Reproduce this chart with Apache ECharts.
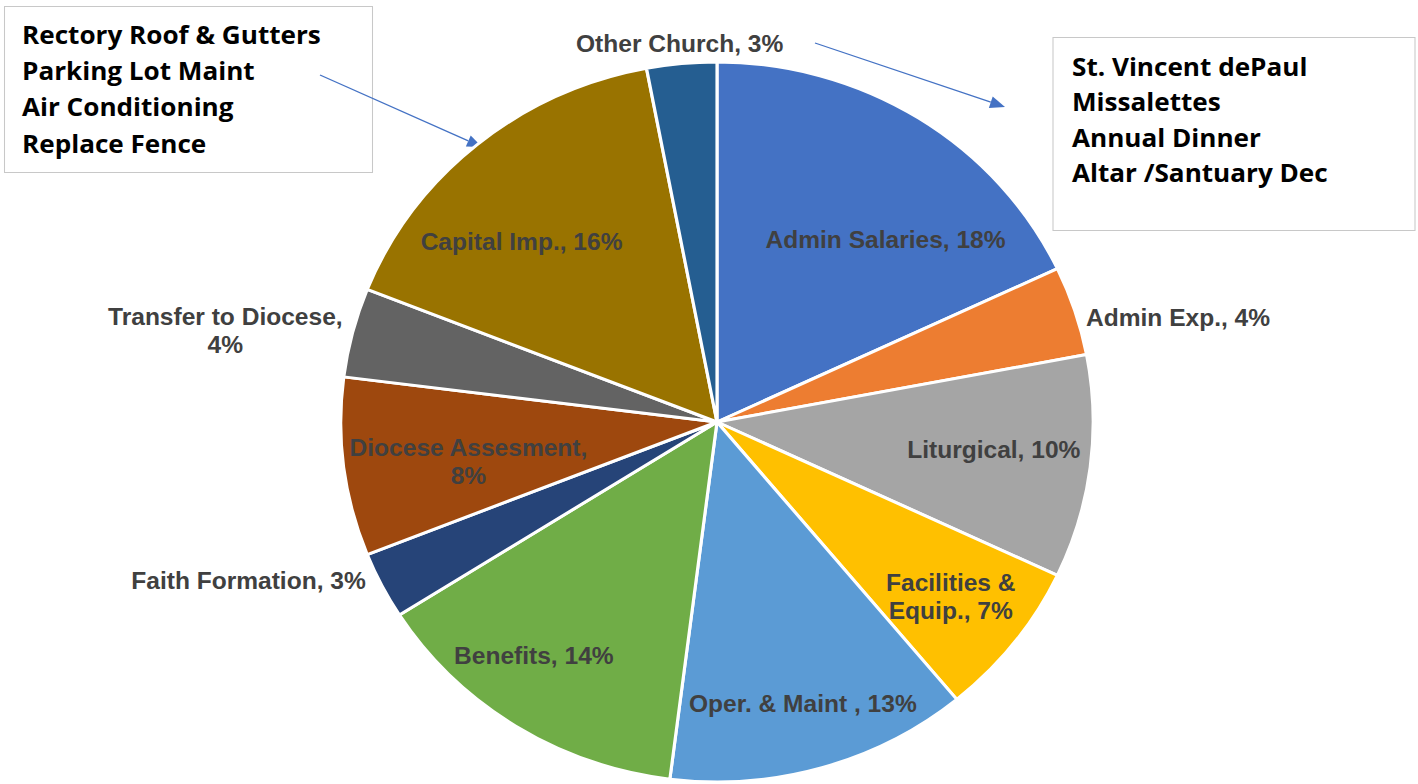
<!DOCTYPE html>
<html><head><meta charset="utf-8">
<script src="https://cdn.jsdelivr.net/npm/echarts@6/dist/echarts.min.js"></script>
<style>
html,body{margin:0;padding:0;background:#fff;overflow:hidden;width:1418px;height:784px}
#wrap{width:1418px;height:784px;overflow:hidden;position:relative;background:#fff}
#chart{position:absolute;left:0;top:0;height:784px;transform-origin:0 0}
</style></head><body>
<div id="wrap"><div id="chart"></div></div>
<script>
// ---- data ----
const categories = ['Admin Salaries','Admin Exp.','Liturgical','Facilities & Equip.','Oper. & Maint ','Benefits','Faith Formation','Diocese Assesment','Transfer to Diocese','Capital Imp.','Other Church'];
const values = [18,4,10,7,13,14,3,8,4,16,3];
const colors = ['#4472C4','#ED7D31','#A5A5A5','#FFC000','#5B9BD5','#70AD47','#264478','#9E480E','#636363','#997300','#255E91'];
const outsideLabels = ['Admin Exp.','Faith Formation','Transfer to Diocese','Other Church'];
const leftNote = ['Rectory Roof & Gutters','Parking Lot Maint','Air Conditioning','Replace Fence'];
const rightNote = ['St. Vincent dePaul','Missalettes','Annual Dinner','Altar /Santuary Dec'];

// ---- layout / style ----
const SX = 1.045;                 // horizontal stretch of the original picture
const W = 1418 / SX;
const el = document.getElementById('chart');
el.style.width = W + 'px';
el.style.transform = 'scaleX(' + SX + ')';
const CX = 717 / SX, CY = 422, R = 360;
const X = x => x / SX;

// label nudges (Excel "best fit" placement), in px
const labelNudge = {
  'Admin Salaries': [15, 48], 'Admin Exp.': [0, 9], 'Liturgical': [-6, -7],
  'Facilities & Equip.': [8, 7], 'Oper. & Maint ': [6, 20], 'Benefits': [-29, 3],
  'Faith Formation': [-5, -7], 'Diocese Assesment': [33, 5], 'Transfer to Diocese': [5, 0],
  'Capital Imp.': [-13, 30]
};

const wrapName = {'Facilities & Equip.': 'Facilities &\nEquip.'};
const breakAfterComma = ['Diocese Assesment','Transfer to Diocese'];
function labelLines(name, pct) {
  const n = wrapName[name] || name;
  return (n + (breakAfterComma.includes(name) ? ',\n' : ', ') + pct + '%');
}
const labelFont = {fontFamily: 'Liberation Sans, Arial, sans-serif', fontWeight: 'bold', fontSize: 23.5, color: '#404040', lineHeight: 28};

const mainData = categories.map((c, i) => ({
  name: c, value: values[i], itemStyle: {color: colors[i]},
  label: {show: outsideLabels.includes(c)},
  labelLine: c === 'Other Church' ? {length: 20, length2: 0} : undefined
}));
const innerData = categories.map((c, i) => ({
  name: c, value: values[i],
  label: {show: !outsideLabels.includes(c)}
}));

function nudge(p) {
  const name = categories[p.dataIndex];
  const n = labelNudge[name] || [0, 0];
  const res = {dx: n[0], dy: n[1]};
  if (name === 'Other Church') { res.align = 'center'; res.dx = 5; }
  return res;
}

function arrow(x1, y1, x2, y2) {
  const dx = x2 - x1, dy = y2 - y1, L = Math.hypot(dx, dy);
  const ux = dx / L, uy = dy / L, hl = 15, hw = 6;
  const bx = x2 - ux * hl, by = y2 - uy * hl;
  return [
    {type: 'line', shape: {x1: X(x1), y1: y1, x2: X(bx), y2: by}, style: {stroke: '#4472C4', lineWidth: 1.3}, silent: true},
    {type: 'polygon', shape: {points: [[X(x2), y2], [X(bx - uy * hw), by + ux * hw], [X(bx + uy * hw), by - ux * hw]]}, style: {fill: '#4472C4'}, silent: true}
  ];
}
function noteBox(x, y, w, h, lines, tx, ty0, step) {
  const els = [{type: 'rect', shape: {x: X(x), y: y, width: X(w), height: h}, style: {fill: '#fff', stroke: '#c8c8c8', lineWidth: 1}, silent: true}];
  lines.forEach((t, i) => els.push({type: 'text', x: X(tx), y: ty0 + i * step,
    style: {text: t, fill: '#000', font: 'bold 25px "Open Sans", "Noto Sans", sans-serif', textVerticalAlign: 'middle', textAlign: 'left'}, silent: true}));
  return els;
}

const chart = echarts.init(el, null, {renderer: 'svg', width: W, height: 784});
chart.setOption({
  animation: false,
  backgroundColor: '#fff',
  series: [{
    type: 'pie', center: [CX, CY], radius: [0, R], startAngle: 90, clockwise: true,
    percentPrecision: 0, avoidLabelOverlap: false, minShowLabelAngle: 0,
    itemStyle: {borderColor: '#fff', borderWidth: 3},
    label: Object.assign({position: 'outside', distanceToLabelLine: 5,
      formatter: p => {
        const t = labelLines(p.name, p.percent);
        return t.indexOf('\n') >= 0 ? t.split('\n').map(s => '{c|' + s + '}').join('\n') : t;
      },
      rich: {c: Object.assign({width: 232, align: 'center'}, labelFont)}
    }, labelFont),
    labelLine: {show: false, length: 6, length2: 0},
    labelLayout: nudge,
    emphasis: {disabled: true},
    data: mainData
  }, {
    type: 'pie', center: [CX, CY], radius: [R * 0.5, R], startAngle: 90, clockwise: true,
    percentPrecision: 0, avoidLabelOverlap: false, silent: true, z: 5,
    itemStyle: {color: 'rgba(0,0,0,0)', borderWidth: 0},
    label: Object.assign({position: 'inside', formatter: p => labelLines(p.name, p.percent)}, labelFont),
    labelLine: {show: false},
    labelLayout: nudge,
    emphasis: {disabled: true},
    data: innerData
  }],
  graphic: [].concat(
    noteBox(4.5, 6.5, 368, 166, leftNote, 22, 34, 36.3),
    noteBox(1053, 37.5, 362, 193, rightNote, 1072, 66, 35.5),
    arrow(320, 75, 482, 147),
    arrow(815, 43, 1005, 107)
  )
});
</script>
</body></html>
